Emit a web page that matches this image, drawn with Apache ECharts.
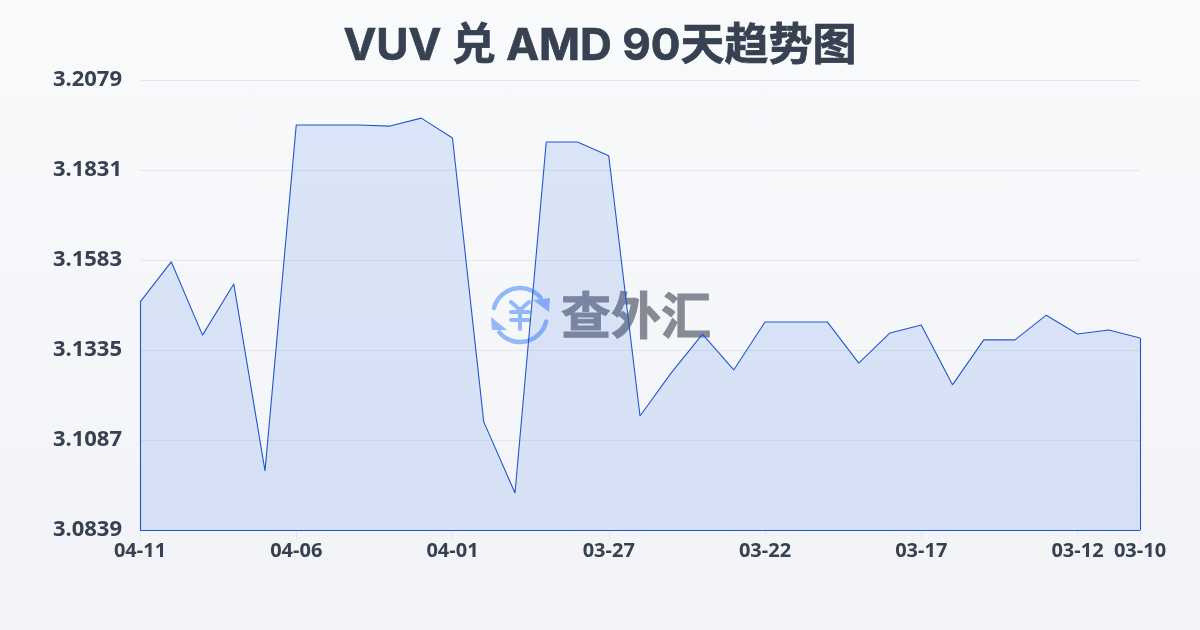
<!DOCTYPE html>
<html>
<head>
<meta charset="utf-8">
<style>
html,body{margin:0;padding:0;width:1200px;height:630px;overflow:hidden;background:linear-gradient(180deg,#f8fafc 0%,#f1f3f6 100%);}
#c{width:1200px;height:630px;}
</style>
<script src="https://cdn.jsdelivr.net/npm/echarts@6/dist/echarts.min.js"></script>
</head>
<body>
<div id="c"></div>
<script>
const titleText = 'VUV 兑 AMD 90天趋势图';
const watermarkText = '查外汇';
const dates = ['04-11','04-10','04-09','04-08','04-07','04-06','04-05','04-04','04-03','04-02','04-01',
  '03-31','03-30','03-29','03-28','03-27','03-26','03-25','03-24','03-23','03-22',
  '03-21','03-20','03-19','03-18','03-17','03-16','03-15','03-14','03-13','03-12','03-11','03-10'];
const rates = [3.1467,3.1578,3.1376,3.1517,3.1002,3.1955,3.1955,3.1955,3.1952,3.1974,3.1919,
  3.1137,3.0941,3.1908,3.1908,3.1870,3.1153,3.1272,3.1379,3.1280,3.1412,
  3.1412,3.1412,3.1299,3.1382,3.1404,3.1239,3.1363,3.1363,3.1431,3.1379,3.1390,3.1368];
const yTicks = [3.0839,3.1087,3.1335,3.1583,3.1831,3.2079];
const xLabelDates = ['04-11','04-06','04-01','03-27','03-22','03-17','03-12','03-10'];

const titleFont = 'Inter,"Noto Sans CJK SC",sans-serif';
const font = '"Noto Sans","Noto Sans CJK SC",sans-serif';
const textColor = '#374151';
const lineColor = '#2456c8';
const iconColor = '#93b8f8';
const yMin = yTicks[0], yMax = yTicks[yTicks.length-1];
const first = dates[0], last = dates[dates.length-1];

const chart = echarts.init(document.getElementById('c'), null, {renderer:'canvas'});
chart.setOption({
  animation:false,
  backgroundColor:'transparent',
  title:{text:titleText,left:'center',top:20,textStyle:{fontFamily:titleFont,fontSize:44,fontWeight:'bold',color:'#374151',textBorderColor:'#374151',textBorderWidth:0.7}},
  grid:{left:140,right:60,top:80,bottom:100},
  xAxis:{type:'category',boundaryGap:false,data:dates,
    axisLine:{show:false},
    axisTick:{show:true,length:9,lineStyle:{color:'#e5e7eb',width:1},interval:(i,v)=>xLabelDates.includes(v)},
    axisLabel:{interval:(i,v)=>xLabelDates.includes(v),hideOverlap:false,margin:11,fontFamily:font,fontSize:20,fontWeight:'bold',color:textColor},
    splitLine:{show:false}},
  yAxis:{type:'value',min:yMin,max:yMax,
    axisLine:{show:false},axisTick:{show:false,customValues:yTicks},
    axisLabel:{customValues:yTicks,formatter:v=>v.toFixed(4),margin:18,padding:[0,0,2,0],fontFamily:font,fontSize:22,fontWeight:'bold',color:textColor},
    splitLine:{show:true,lineStyle:{color:'#e5e7eb',width:1}}},
  graphic:{elements:[
    {type:'arc',z:0,shape:{cx:520,cy:315,r:27,startAngle:195*Math.PI/180,endAngle:320*Math.PI/180,clockwise:true},style:{fill:null,stroke:iconColor,lineWidth:4.5,lineCap:'round'}},
    {type:'arc',z:0,shape:{cx:520,cy:315,r:27,startAngle:14*Math.PI/180,endAngle:140*Math.PI/180,clockwise:true},style:{fill:null,stroke:iconColor,lineWidth:4.5,lineCap:'round'}},
    {type:'polygon',z:0,shape:{points:[[533,300],[550,298],[549,312]]},style:{fill:iconColor}},
    {type:'polygon',z:0,shape:{points:[[491,317],[507,330],[492,330]]},style:{fill:iconColor}},
    {type:'polyline',z:0,shape:{points:[[511,302],[520,310],[529,302]]},style:{fill:null,stroke:iconColor,lineWidth:4,lineCap:'round'}},
    {type:'line',z:0,shape:{x1:511,y1:312,x2:529,y2:312},style:{stroke:iconColor,lineWidth:4,lineCap:'round'}},
    {type:'line',z:0,shape:{x1:511,y1:320,x2:529,y2:320},style:{stroke:iconColor,lineWidth:4,lineCap:'round'}},
    {type:'line',z:0,shape:{x1:520,y1:310,x2:520,y2:329},style:{stroke:iconColor,lineWidth:4,lineCap:'round'}},
    {type:'text',z:0,x:636,y:315,style:{text:watermarkText,fontFamily:'"Noto Sans CJK SC",sans-serif',fontSize:50,fontWeight:'bold',fill:'#858a95',stroke:'#858a95',lineWidth:1,textAlign:'center',textVerticalAlign:'middle'}}
  ]},
  series:[{type:'line',data:rates,showSymbol:false,symbol:'none',smooth:false,
    lineStyle:{color:lineColor,width:1.1},
    areaStyle:{color:'rgba(37,99,235,0.19)',origin:'start'},
    markLine:{silent:true,symbol:'none',animation:false,label:{show:false},
      lineStyle:{color:lineColor,width:1.1,type:'solid'},
      data:[
        [{coord:[first,yMin]},{coord:[first,rates[0]]}],
        [{coord:[last,yMin]},{coord:[last,rates[rates.length-1]]}],
        [{coord:[first,yMin]},{coord:[last,yMin]}]
      ]}
  }]
});
</script>
</body>
</html>
